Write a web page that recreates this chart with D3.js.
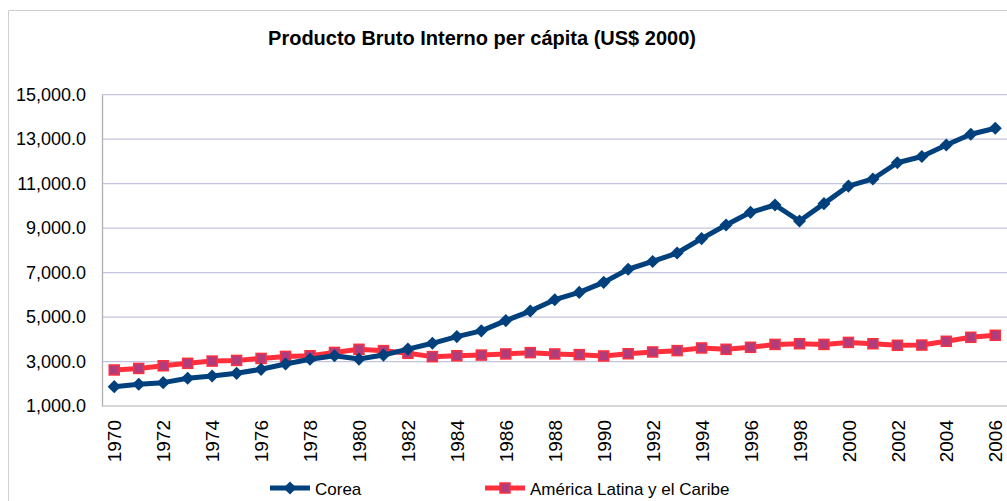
<!DOCTYPE html>
<html><head><meta charset="utf-8">
<script src="https://cdn.jsdelivr.net/npm/d3@7"></script>
<style>body{margin:0;background:#fff;}svg{display:block;font-family:"Liberation Sans",Arial,sans-serif;}</style>
</head><body>
<svg id="c" width="1007" height="501"></svg>
<script>
const years = d3.range(1970, 2007);
const corea = [1870,1980,2050,2250,2350,2470,2650,2890,3100,3260,3110,3290,3560,3820,4120,4380,4840,5270,5780,6110,6560,7150,7500,7880,8530,9140,9710,10040,9320,10100,10890,11210,11940,12220,12740,13220,13490];
const latam = [2620,2690,2810,2920,3020,3050,3140,3230,3260,3410,3550,3490,3370,3220,3260,3290,3340,3400,3340,3310,3250,3350,3430,3490,3610,3550,3640,3770,3800,3770,3860,3800,3730,3740,3910,4090,4180];
const yTicks = [1000,3000,5000,7000,9000,11000,13000,15000];
const xTickYears = years.filter(y => y % 2 === 0);
const title = "Producto Bruto Interno per cápita (US$ 2000)";
const seriesNames = ["Corea", "América Latina y el Caribe"];

(function(){
const svg = d3.select("#c");
const W = 1007, H = 501;
const pl = 102, pr = 1007.5, pt = 94.7, pb = 406;

svg.append("path").attr("d", `M8.5,${H} V10.5 H${W}`).attr("fill","none").attr("stroke","#d0d0d0").attr("stroke-width",1);

svg.append("text").attr("x", 482).attr("y", 45).attr("text-anchor","middle")
  .attr("font-size", 20).attr("font-weight","bold").attr("fill","#000").text(title);

const x = d3.scalePoint().domain(years).range([pl, pr]).padding(0.5);
const y = d3.scaleLinear().domain([1000, 15000]).range([pb, pt]);

svg.append("g").selectAll("line").data(yTicks.slice(1)).join("line")
  .attr("x1", pl).attr("x2", pr).attr("y1", d => y(d)).attr("y2", d => y(d))
  .attr("stroke", "#c4c4de").attr("stroke-width", 1.3);

const yAxis = d3.axisLeft(y).tickValues(yTicks).tickSize(0).tickPadding(16)
  .tickFormat(d => d3.format(",.1f")(d));
const gy = svg.append("g").attr("transform", `translate(${pl},0)`).call(yAxis);
gy.select(".domain").attr("stroke", "#b0b0b0").attr("stroke-width", 1.3);
gy.selectAll("text").attr("font-size", 18).attr("fill", "#000").attr("font-family", "Liberation Sans, Arial, sans-serif");

const xAxis = d3.axisBottom(x).tickValues(xTickYears).tickSize(0).tickPadding(0);
const gx = svg.append("g").attr("transform", `translate(0,${pb})`).call(xAxis);
gx.select(".domain").attr("stroke", "#c8c8c8").attr("stroke-width", 1.3).attr("d", `M${pl},0H${pr}`);
gx.selectAll("text").attr("font-size", 19).attr("fill", "#000").attr("font-family", "Liberation Sans, Arial, sans-serif")
  .attr("transform", "rotate(-90)").attr("text-anchor", "end").attr("dy", "0.35em").attr("x", -14).attr("y", 0);

const line = d3.line().x((d, i) => x(years[i])).y(d => y(d));

svg.append("path").datum(latam).attr("d", line).attr("fill","none").attr("stroke","#ff303c").attr("stroke-width",5).attr("stroke-linejoin","round");
svg.append("g").selectAll("rect").data(latam).join("rect")
  .attr("x", (d,i) => x(years[i]) - 5).attr("y", d => y(d) - 5).attr("width", 10).attr("height", 10)
  .attr("fill", "#b03c7c").attr("stroke", "#ff303c").attr("stroke-width", 1.5);

svg.append("path").datum(corea).attr("d", line).attr("fill","none").attr("stroke","#00417d").attr("stroke-width",5).attr("stroke-linejoin","round");
const diamond = d3.symbol().type(d3.symbolDiamond2).size(110);
svg.append("g").selectAll("path").data(corea).join("path")
  .attr("d", diamond).attr("transform", (d,i) => `translate(${x(years[i])},${y(d)})`)
  .attr("fill", "#00417d");

const lg = svg.append("g");
lg.append("line").attr("x1",270).attr("x2",310).attr("y1",488).attr("y2",488).attr("stroke","#00417d").attr("stroke-width",5);
lg.append("path").attr("d", diamond).attr("transform","translate(290,488)").attr("fill","#00417d");
lg.append("text").attr("x",315).attr("y",495).attr("font-size",17).attr("fill","#000").text(seriesNames[0]);
lg.append("line").attr("x1",485).attr("x2",525).attr("y1",488).attr("y2",488).attr("stroke","#ff303c").attr("stroke-width",5);
lg.append("rect").attr("x",500).attr("y",483).attr("width",10).attr("height",10).attr("fill","#b03c7c").attr("stroke","#ff303c").attr("stroke-width",1.5);
lg.append("text").attr("x",530).attr("y",495).attr("font-size",17).attr("fill","#000").text(seriesNames[1]);
})();
</script>
</body></html>
